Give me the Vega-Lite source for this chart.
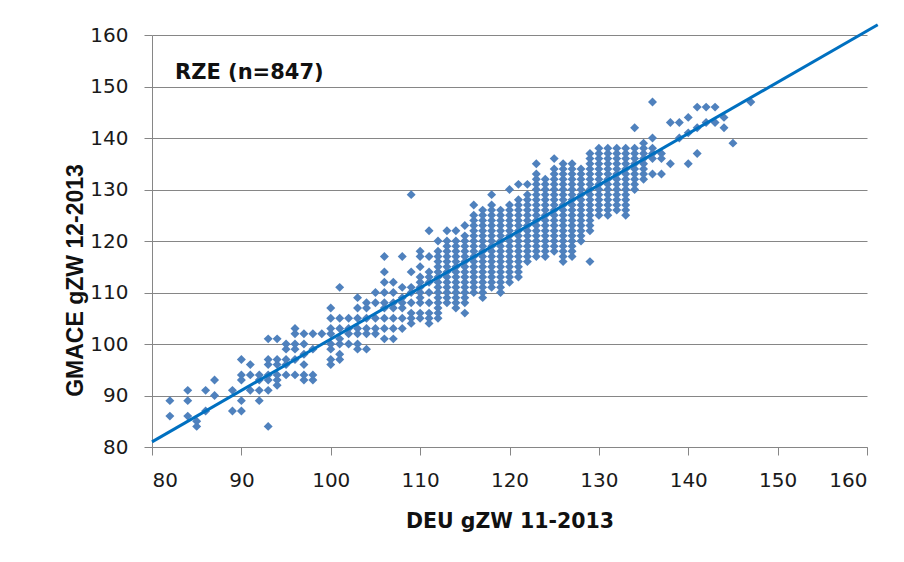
{
"$schema": "https://vega.github.io/schema/vega-lite/v6.json",
"width": 715, "height": 412,
"autosize": "none",
"padding": {"left": 152, "top": 35, "right": 37, "bottom": 115},
"background": "white",
"config": {"view": {"stroke": null}, "font": "DejaVu Sans"},
"title": {"text": "RZE (n=847)", "anchor": "start", "frame": "group", "orient": "top", "offset": 0, "baseline": "alphabetic", "dx": 23, "dy": 81, "font": "DejaVu Sans", "fontSize": 21, "fontWeight": "bold", "color": "#111111"},
"datasets": {
"pts": [
{"deu":82,"gmace":86},{"deu":82,"gmace":89},
{"deu":84,"gmace":86},{"deu":84,"gmace":89},{"deu":84,"gmace":91},
{"deu":85,"gmace":84},{"deu":85,"gmace":85},
{"deu":86,"gmace":87},{"deu":86,"gmace":91},
{"deu":87,"gmace":90},{"deu":87,"gmace":93},
{"deu":89,"gmace":87},{"deu":89,"gmace":91},
{"deu":90,"gmace":87},{"deu":90,"gmace":89},{"deu":90,"gmace":93},{"deu":90,"gmace":94},{"deu":90,"gmace":97},
{"deu":91,"gmace":91},{"deu":91,"gmace":94},{"deu":91,"gmace":96},
{"deu":92,"gmace":89},{"deu":92,"gmace":91},{"deu":92,"gmace":93},{"deu":92,"gmace":94},
{"deu":93,"gmace":84},{"deu":93,"gmace":91},{"deu":93,"gmace":93},{"deu":93,"gmace":94},{"deu":93,"gmace":96},{"deu":93,"gmace":97},{"deu":93,"gmace":101},
{"deu":94,"gmace":92},{"deu":94,"gmace":93},{"deu":94,"gmace":94},{"deu":94,"gmace":96},{"deu":94,"gmace":97},{"deu":94,"gmace":101},
{"deu":95,"gmace":94},{"deu":95,"gmace":96},{"deu":95,"gmace":97},{"deu":95,"gmace":99},{"deu":95,"gmace":100},
{"deu":96,"gmace":94},{"deu":96,"gmace":97},{"deu":96,"gmace":99},{"deu":96,"gmace":100},{"deu":96,"gmace":102},{"deu":96,"gmace":103},
{"deu":97,"gmace":93},{"deu":97,"gmace":94},{"deu":97,"gmace":96},{"deu":97,"gmace":98},{"deu":97,"gmace":100},{"deu":97,"gmace":102},
{"deu":98,"gmace":93},{"deu":98,"gmace":94},{"deu":98,"gmace":99},{"deu":98,"gmace":102},
{"deu":99,"gmace":102},
{"deu":100,"gmace":96},{"deu":100,"gmace":97},{"deu":100,"gmace":99},{"deu":100,"gmace":100},{"deu":100,"gmace":102},{"deu":100,"gmace":103},{"deu":100,"gmace":105},{"deu":100,"gmace":107},
{"deu":101,"gmace":97},{"deu":101,"gmace":98},{"deu":101,"gmace":100},{"deu":101,"gmace":101},{"deu":101,"gmace":103},{"deu":101,"gmace":105},{"deu":101,"gmace":111},
{"deu":102,"gmace":100},{"deu":102,"gmace":102},{"deu":102,"gmace":103},{"deu":102,"gmace":105},
{"deu":103,"gmace":99},{"deu":103,"gmace":100},{"deu":103,"gmace":102},{"deu":103,"gmace":103},{"deu":103,"gmace":105},{"deu":103,"gmace":107},{"deu":103,"gmace":109},
{"deu":104,"gmace":99},{"deu":104,"gmace":102},{"deu":104,"gmace":103},{"deu":104,"gmace":105},{"deu":104,"gmace":107},{"deu":104,"gmace":108},
{"deu":105,"gmace":102},{"deu":105,"gmace":103},{"deu":105,"gmace":105},{"deu":105,"gmace":108},{"deu":105,"gmace":110},
{"deu":106,"gmace":101},{"deu":106,"gmace":103},{"deu":106,"gmace":105},{"deu":106,"gmace":107},{"deu":106,"gmace":108},{"deu":106,"gmace":110},{"deu":106,"gmace":112},{"deu":106,"gmace":114},{"deu":106,"gmace":117},
{"deu":107,"gmace":101},{"deu":107,"gmace":103},{"deu":107,"gmace":105},{"deu":107,"gmace":107},{"deu":107,"gmace":108},{"deu":107,"gmace":110},{"deu":107,"gmace":112},
{"deu":108,"gmace":103},{"deu":108,"gmace":105},{"deu":108,"gmace":107},{"deu":108,"gmace":108},{"deu":108,"gmace":109},{"deu":108,"gmace":111},{"deu":108,"gmace":117},
{"deu":109,"gmace":104},{"deu":109,"gmace":105},{"deu":109,"gmace":106},{"deu":109,"gmace":108},{"deu":109,"gmace":110},{"deu":109,"gmace":111},{"deu":109,"gmace":114},{"deu":109,"gmace":129},
{"deu":110,"gmace":105},{"deu":110,"gmace":106},{"deu":110,"gmace":108},{"deu":110,"gmace":109},{"deu":110,"gmace":110},{"deu":110,"gmace":111},{"deu":110,"gmace":112},{"deu":110,"gmace":113},{"deu":110,"gmace":115},{"deu":110,"gmace":117},{"deu":110,"gmace":118},
{"deu":111,"gmace":104},{"deu":111,"gmace":105},{"deu":111,"gmace":106},{"deu":111,"gmace":108},{"deu":111,"gmace":110},{"deu":111,"gmace":112},{"deu":111,"gmace":113},{"deu":111,"gmace":114},{"deu":111,"gmace":117},{"deu":111,"gmace":122},
{"deu":112,"gmace":105},{"deu":112,"gmace":106},{"deu":112,"gmace":107},{"deu":112,"gmace":108},{"deu":112,"gmace":109},{"deu":112,"gmace":110},{"deu":112,"gmace":111},{"deu":112,"gmace":112},{"deu":112,"gmace":113},{"deu":112,"gmace":114},{"deu":112,"gmace":115},{"deu":112,"gmace":116},{"deu":112,"gmace":117},{"deu":112,"gmace":118},{"deu":112,"gmace":120},
{"deu":113,"gmace":108},{"deu":113,"gmace":109},{"deu":113,"gmace":110},{"deu":113,"gmace":111},{"deu":113,"gmace":112},{"deu":113,"gmace":113},{"deu":113,"gmace":114},{"deu":113,"gmace":115},{"deu":113,"gmace":116},{"deu":113,"gmace":117},{"deu":113,"gmace":118},{"deu":113,"gmace":119},{"deu":113,"gmace":120},{"deu":113,"gmace":122},
{"deu":114,"gmace":107},{"deu":114,"gmace":108},{"deu":114,"gmace":109},{"deu":114,"gmace":110},{"deu":114,"gmace":111},{"deu":114,"gmace":112},{"deu":114,"gmace":113},{"deu":114,"gmace":114},{"deu":114,"gmace":115},{"deu":114,"gmace":116},{"deu":114,"gmace":117},{"deu":114,"gmace":118},{"deu":114,"gmace":119},{"deu":114,"gmace":120},{"deu":114,"gmace":122},
{"deu":115,"gmace":106},{"deu":115,"gmace":108},{"deu":115,"gmace":109},{"deu":115,"gmace":110},{"deu":115,"gmace":111},{"deu":115,"gmace":112},{"deu":115,"gmace":113},{"deu":115,"gmace":114},{"deu":115,"gmace":115},{"deu":115,"gmace":116},{"deu":115,"gmace":117},{"deu":115,"gmace":118},{"deu":115,"gmace":119},{"deu":115,"gmace":120},{"deu":115,"gmace":121},{"deu":115,"gmace":123},
{"deu":116,"gmace":110},{"deu":116,"gmace":111},{"deu":116,"gmace":112},{"deu":116,"gmace":113},{"deu":116,"gmace":114},{"deu":116,"gmace":115},{"deu":116,"gmace":116},{"deu":116,"gmace":117},{"deu":116,"gmace":118},{"deu":116,"gmace":119},{"deu":116,"gmace":120},{"deu":116,"gmace":121},{"deu":116,"gmace":122},{"deu":116,"gmace":123},{"deu":116,"gmace":124},{"deu":116,"gmace":125},{"deu":116,"gmace":127},
{"deu":117,"gmace":109},{"deu":117,"gmace":110},{"deu":117,"gmace":111},{"deu":117,"gmace":112},{"deu":117,"gmace":113},{"deu":117,"gmace":114},{"deu":117,"gmace":115},{"deu":117,"gmace":116},{"deu":117,"gmace":117},{"deu":117,"gmace":118},{"deu":117,"gmace":119},{"deu":117,"gmace":120},{"deu":117,"gmace":121},{"deu":117,"gmace":122},{"deu":117,"gmace":123},{"deu":117,"gmace":124},{"deu":117,"gmace":125},{"deu":117,"gmace":126},
{"deu":118,"gmace":111},{"deu":118,"gmace":112},{"deu":118,"gmace":113},{"deu":118,"gmace":114},{"deu":118,"gmace":115},{"deu":118,"gmace":116},{"deu":118,"gmace":117},{"deu":118,"gmace":118},{"deu":118,"gmace":119},{"deu":118,"gmace":120},{"deu":118,"gmace":121},{"deu":118,"gmace":122},{"deu":118,"gmace":123},{"deu":118,"gmace":124},{"deu":118,"gmace":125},{"deu":118,"gmace":126},{"deu":118,"gmace":127},{"deu":118,"gmace":129},
{"deu":119,"gmace":110},{"deu":119,"gmace":111},{"deu":119,"gmace":112},{"deu":119,"gmace":113},{"deu":119,"gmace":114},{"deu":119,"gmace":115},{"deu":119,"gmace":116},{"deu":119,"gmace":117},{"deu":119,"gmace":118},{"deu":119,"gmace":119},{"deu":119,"gmace":120},{"deu":119,"gmace":121},{"deu":119,"gmace":122},{"deu":119,"gmace":123},{"deu":119,"gmace":124},{"deu":119,"gmace":125},{"deu":119,"gmace":126},
{"deu":120,"gmace":112},{"deu":120,"gmace":113},{"deu":120,"gmace":114},{"deu":120,"gmace":115},{"deu":120,"gmace":116},{"deu":120,"gmace":117},{"deu":120,"gmace":118},{"deu":120,"gmace":119},{"deu":120,"gmace":120},{"deu":120,"gmace":121},{"deu":120,"gmace":122},{"deu":120,"gmace":123},{"deu":120,"gmace":124},{"deu":120,"gmace":125},{"deu":120,"gmace":126},{"deu":120,"gmace":127},{"deu":120,"gmace":130},
{"deu":121,"gmace":113},{"deu":121,"gmace":114},{"deu":121,"gmace":115},{"deu":121,"gmace":116},{"deu":121,"gmace":117},{"deu":121,"gmace":118},{"deu":121,"gmace":119},{"deu":121,"gmace":120},{"deu":121,"gmace":121},{"deu":121,"gmace":122},{"deu":121,"gmace":123},{"deu":121,"gmace":124},{"deu":121,"gmace":125},{"deu":121,"gmace":126},{"deu":121,"gmace":127},{"deu":121,"gmace":128},{"deu":121,"gmace":131},
{"deu":122,"gmace":116},{"deu":122,"gmace":117},{"deu":122,"gmace":118},{"deu":122,"gmace":119},{"deu":122,"gmace":120},{"deu":122,"gmace":121},{"deu":122,"gmace":122},{"deu":122,"gmace":123},{"deu":122,"gmace":124},{"deu":122,"gmace":125},{"deu":122,"gmace":126},{"deu":122,"gmace":127},{"deu":122,"gmace":128},{"deu":122,"gmace":129},{"deu":122,"gmace":131},
{"deu":123,"gmace":117},{"deu":123,"gmace":118},{"deu":123,"gmace":119},{"deu":123,"gmace":120},{"deu":123,"gmace":121},{"deu":123,"gmace":122},{"deu":123,"gmace":123},{"deu":123,"gmace":124},{"deu":123,"gmace":125},{"deu":123,"gmace":126},{"deu":123,"gmace":127},{"deu":123,"gmace":128},{"deu":123,"gmace":129},{"deu":123,"gmace":130},{"deu":123,"gmace":131},{"deu":123,"gmace":132},{"deu":123,"gmace":133},{"deu":123,"gmace":135},
{"deu":124,"gmace":117},{"deu":124,"gmace":118},{"deu":124,"gmace":119},{"deu":124,"gmace":120},{"deu":124,"gmace":121},{"deu":124,"gmace":122},{"deu":124,"gmace":123},{"deu":124,"gmace":124},{"deu":124,"gmace":125},{"deu":124,"gmace":126},{"deu":124,"gmace":127},{"deu":124,"gmace":128},{"deu":124,"gmace":129},{"deu":124,"gmace":130},{"deu":124,"gmace":131},{"deu":124,"gmace":132},
{"deu":125,"gmace":118},{"deu":125,"gmace":119},{"deu":125,"gmace":120},{"deu":125,"gmace":121},{"deu":125,"gmace":122},{"deu":125,"gmace":123},{"deu":125,"gmace":124},{"deu":125,"gmace":125},{"deu":125,"gmace":126},{"deu":125,"gmace":127},{"deu":125,"gmace":128},{"deu":125,"gmace":129},{"deu":125,"gmace":130},{"deu":125,"gmace":131},{"deu":125,"gmace":132},{"deu":125,"gmace":133},{"deu":125,"gmace":134},{"deu":125,"gmace":136},
{"deu":126,"gmace":116},{"deu":126,"gmace":117},{"deu":126,"gmace":118},{"deu":126,"gmace":119},{"deu":126,"gmace":120},{"deu":126,"gmace":121},{"deu":126,"gmace":122},{"deu":126,"gmace":123},{"deu":126,"gmace":124},{"deu":126,"gmace":125},{"deu":126,"gmace":126},{"deu":126,"gmace":127},{"deu":126,"gmace":128},{"deu":126,"gmace":129},{"deu":126,"gmace":130},{"deu":126,"gmace":131},{"deu":126,"gmace":132},{"deu":126,"gmace":133},{"deu":126,"gmace":134},{"deu":126,"gmace":135},
{"deu":127,"gmace":117},{"deu":127,"gmace":118},{"deu":127,"gmace":119},{"deu":127,"gmace":120},{"deu":127,"gmace":121},{"deu":127,"gmace":122},{"deu":127,"gmace":123},{"deu":127,"gmace":124},{"deu":127,"gmace":125},{"deu":127,"gmace":126},{"deu":127,"gmace":127},{"deu":127,"gmace":128},{"deu":127,"gmace":129},{"deu":127,"gmace":130},{"deu":127,"gmace":131},{"deu":127,"gmace":132},{"deu":127,"gmace":133},{"deu":127,"gmace":134},{"deu":127,"gmace":135},
{"deu":128,"gmace":120},{"deu":128,"gmace":121},{"deu":128,"gmace":122},{"deu":128,"gmace":123},{"deu":128,"gmace":124},{"deu":128,"gmace":125},{"deu":128,"gmace":126},{"deu":128,"gmace":127},{"deu":128,"gmace":128},{"deu":128,"gmace":129},{"deu":128,"gmace":130},{"deu":128,"gmace":131},{"deu":128,"gmace":132},{"deu":128,"gmace":133},{"deu":128,"gmace":134},
{"deu":129,"gmace":116},{"deu":129,"gmace":122},{"deu":129,"gmace":123},{"deu":129,"gmace":124},{"deu":129,"gmace":125},{"deu":129,"gmace":126},{"deu":129,"gmace":127},{"deu":129,"gmace":128},{"deu":129,"gmace":129},{"deu":129,"gmace":130},{"deu":129,"gmace":131},{"deu":129,"gmace":132},{"deu":129,"gmace":133},{"deu":129,"gmace":134},{"deu":129,"gmace":135},{"deu":129,"gmace":136},{"deu":129,"gmace":137},
{"deu":130,"gmace":125},{"deu":130,"gmace":126},{"deu":130,"gmace":127},{"deu":130,"gmace":128},{"deu":130,"gmace":129},{"deu":130,"gmace":130},{"deu":130,"gmace":131},{"deu":130,"gmace":132},{"deu":130,"gmace":133},{"deu":130,"gmace":134},{"deu":130,"gmace":135},{"deu":130,"gmace":136},{"deu":130,"gmace":137},{"deu":130,"gmace":138},
{"deu":131,"gmace":125},{"deu":131,"gmace":126},{"deu":131,"gmace":127},{"deu":131,"gmace":128},{"deu":131,"gmace":129},{"deu":131,"gmace":130},{"deu":131,"gmace":131},{"deu":131,"gmace":132},{"deu":131,"gmace":133},{"deu":131,"gmace":134},{"deu":131,"gmace":135},{"deu":131,"gmace":136},{"deu":131,"gmace":137},{"deu":131,"gmace":138},
{"deu":132,"gmace":126},{"deu":132,"gmace":127},{"deu":132,"gmace":128},{"deu":132,"gmace":129},{"deu":132,"gmace":130},{"deu":132,"gmace":131},{"deu":132,"gmace":132},{"deu":132,"gmace":133},{"deu":132,"gmace":134},{"deu":132,"gmace":135},{"deu":132,"gmace":136},{"deu":132,"gmace":137},{"deu":132,"gmace":138},
{"deu":133,"gmace":125},{"deu":133,"gmace":126},{"deu":133,"gmace":127},{"deu":133,"gmace":128},{"deu":133,"gmace":129},{"deu":133,"gmace":130},{"deu":133,"gmace":131},{"deu":133,"gmace":132},{"deu":133,"gmace":133},{"deu":133,"gmace":134},{"deu":133,"gmace":135},{"deu":133,"gmace":136},{"deu":133,"gmace":137},{"deu":133,"gmace":138},
{"deu":134,"gmace":130},{"deu":134,"gmace":131},{"deu":134,"gmace":132},{"deu":134,"gmace":133},{"deu":134,"gmace":134},{"deu":134,"gmace":135},{"deu":134,"gmace":136},{"deu":134,"gmace":137},{"deu":134,"gmace":138},{"deu":134,"gmace":142},
{"deu":135,"gmace":132},{"deu":135,"gmace":133},{"deu":135,"gmace":134},{"deu":135,"gmace":135},{"deu":135,"gmace":136},{"deu":135,"gmace":137},{"deu":135,"gmace":138},{"deu":135,"gmace":139},
{"deu":136,"gmace":133},{"deu":136,"gmace":136},{"deu":136,"gmace":137},{"deu":136,"gmace":138},{"deu":136,"gmace":140},{"deu":136,"gmace":147},
{"deu":137,"gmace":133},{"deu":137,"gmace":136},{"deu":137,"gmace":137},
{"deu":138,"gmace":135},{"deu":138,"gmace":143},
{"deu":139,"gmace":140},{"deu":139,"gmace":143},
{"deu":140,"gmace":135},{"deu":140,"gmace":141},{"deu":140,"gmace":144},
{"deu":141,"gmace":137},{"deu":141,"gmace":142},{"deu":141,"gmace":146},
{"deu":142,"gmace":143},{"deu":142,"gmace":146},
{"deu":143,"gmace":143},{"deu":143,"gmace":146},
{"deu":144,"gmace":142},{"deu":144,"gmace":144},
{"deu":145,"gmace":139},
{"deu":147,"gmace":147}
],
"trend": [{"deu": 80, "gmace": 81}, {"deu": 161.2, "gmace": 162}]
},
"layer": [
{
"data": {"name": "pts"},
"mark": {"type": "point", "shape": "diamond", "filled": true, "size": 80, "color": "#4F81BD", "opacity": 1, "strokeWidth": 0},
"encoding": {
"x": {"field": "deu", "type": "quantitative",
"scale": {"domain": [80, 160], "nice": false, "zero": false},
"axis": {"title": "DEU gZW 11-2013", "values": [80, 90, 100, 110, 120, 130, 140, 150, 160], "grid": false,
"domainColor": "#868686", "tickColor": "#868686", "tickSize": 8, "labelFont": "DejaVu Sans", "labelFontSize": 20, "labelColor": "#1a1a1a", "labelPadding": 15,
"titleFont": "DejaVu Sans", "titleFontSize": 20.5, "titleFontWeight": "bold", "titleColor": "#111111", "titleBaseline": "alphabetic", "titleY": 80}},
"y": {"field": "gmace", "type": "quantitative",
"scale": {"domain": [80, 160], "nice": false, "zero": false},
"axis": {"title": "GMACE gZW 12-2013", "values": [80, 90, 100, 110, 120, 130, 140, 150, 160], "grid": true, "gridColor": "#868686", "gridWidth": 1,
"domainColor": "#868686", "tickColor": "#868686", "tickSize": 8, "labelFont": "DejaVu Sans", "labelFontSize": 20, "labelColor": "#1a1a1a", "labelPadding": 16,
"titleFont": "Liberation Sans", "titleFontSize": 23, "titleFontWeight": "bold", "titleColor": "#111111", "titleBaseline": "alphabetic", "titleX": -70, "titleY": 245}}
}
},
{
"data": {"name": "trend"},
"mark": {"type": "line", "color": "#0070C0", "strokeWidth": 3, "clip": false},
"encoding": {
"x": {"field": "deu", "type": "quantitative"},
"y": {"field": "gmace", "type": "quantitative"}
}
}
]
}
